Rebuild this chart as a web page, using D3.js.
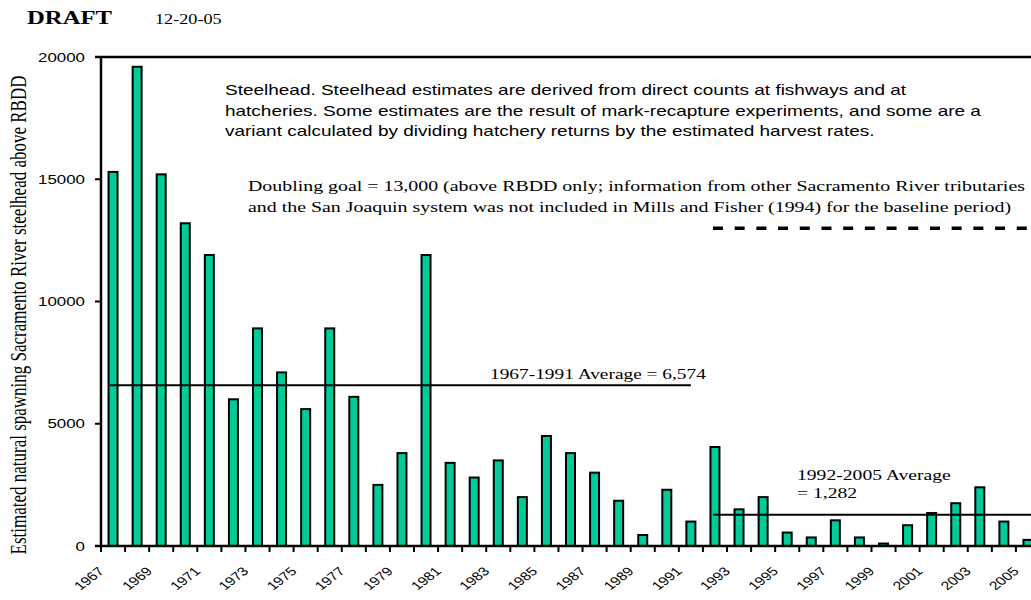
<!DOCTYPE html>
<html><head><meta charset="utf-8">
<script src="https://cdn.jsdelivr.net/npm/d3@7"></script>
<style>html,body{margin:0;padding:0;background:#fff;overflow:hidden}</style>
</head><body>
<script>
const years = [1967,1968,1969,1970,1971,1972,1973,1974,1975,1976,1977,1978,1979,1980,1981,1982,1983,1984,1985,1986,1987,1988,1989,1990,1991,1992,1993,1994,1995,1996,1997,1998,1999,2000,2001,2002,2003,2004,2005];
const values = [15300,19600,15200,13200,11900,6000,8900,7100,5600,8900,6100,2500,3800,11900,3400,2800,3500,2000,4500,3800,3000,1850,450,2300,1000,4050,1500,2000,550,350,1050,350,100,850,1350,1750,2400,1000,250];
const tickLabels = ["1967","1969","1971","1973","1975","1977","1979","1981","1983","1985","1987","1989","1991","1993","1995","1997","1999","2001","2003","2005"];
const yTicks = [0,5000,10000,15000,20000];
const avg1 = {from:1967, to:1991, value:6574, label:"1967-1991 Average = 6,574"};
const avg2 = {from:1992, to:2005, value:1282, label:["1992-2005 Average","= 1,282"]};
const goal = {from:1992, value:13000, label:["Doubling goal = 13,000 (above RBDD only; information from other Sacramento River tributaries","and the San Joaquin system was not included in Mills and Fisher (1994) for the baseline period)"]};
const note = ["Steelhead. Steelhead estimates are derived from direct counts at fishways and at","hatcheries. Some estimates are the result of mark-recapture experiments, and some are a","variant calculated by dividing hatchery returns by the estimated harvest rates."];
const yTitle = "Estimated natural spawning Sacramento River steelhead above RBDD";

const W = 1031, H = 600, SX = 1.3;
const serif = "'Liberation Serif','Times New Roman',serif";
const sans = "'Liberation Sans',Arial,sans-serif";
const svg = d3.select("body").append("svg").attr("width", W).attr("height", H);

const x = d3.scaleBand().domain(years).range([101, 1040]).padding(0);
const y = d3.scaleLinear().domain([0, 20000]).range([546, 57]);
const cx = d => x(d) + x.bandwidth()/2;

function txt(g, px, py, s, o) {
  o = o || {};
  const th = (o.rot || 0) * Math.PI / 180;
  const c = Math.cos(th), sn = Math.sin(th);
  const m = [SX * c, sn, -SX * sn, c, px, py].map(v => +v.toFixed(4));
  const t = g.append("text")
    .attr("transform", `matrix(${m.join(",")})`)
    .attr("x", 0).attr("y", 0)
    .attr("font-family", o.font || serif).attr("font-size", o.size || 14)
    .attr("text-anchor", o.anchor || "start").attr("fill", "#000").text(s);
  if (o.weight) t.attr("font-weight", o.weight);
  if (o.dy) t.attr("dy", o.dy);
  return t;
}

// header
txt(svg, 27, 24, "DRAFT", {size: 19, weight: "bold"});
txt(svg, 155, 24, "12-20-05", {size: 14});

// bars
const bw = 9;
svg.append("g").selectAll("rect").data(years).join("rect")
  .attr("x", (d) => cx(d) - bw/2)
  .attr("y", (d,i) => y(values[i]))
  .attr("width", bw)
  .attr("height", (d,i) => y(0) - y(values[i]))
  .attr("fill", "#00CC99").attr("stroke", "#000").attr("stroke-width", 2);

// y axis
const ya = svg.append("g");
ya.append("line").attr("x1", 101).attr("x2", 101).attr("y1", y(20000)).attr("y2", y(0)).attr("stroke", "#000").attr("stroke-width", 2.5);
ya.selectAll("line.t").data(yTicks).join("line").attr("class","t")
  .attr("x1", 95).attr("x2", 101).attr("y1", d => y(d)).attr("y2", d => y(d)).attr("stroke", "#000").attr("stroke-width", 2);
yTicks.forEach(v => txt(ya, 85, y(v), String(v), {font: sans, size: 13, anchor: "end", dy: "0.35em"}));
// top frame line
svg.append("line").attr("x1", 95).attr("x2", 1040).attr("y1", y(20000)).attr("y2", y(20000)).attr("stroke", "#000").attr("stroke-width", 2.5);

// x axis
const xa = svg.append("g");
xa.append("line").attr("x1", 95).attr("x2", 1040).attr("y1", y(0)).attr("y2", y(0)).attr("stroke", "#000").attr("stroke-width", 2.5);
xa.selectAll("line.t").data(years).join("line").attr("class","t")
  .attr("x1", d => x(d)).attr("x2", d => x(d)).attr("y1", y(0)).attr("y2", y(0) + 6).attr("stroke", "#000").attr("stroke-width", 2);
tickLabels.forEach(l => txt(xa, cx(+l) - 8, 572, l, {font: sans, size: 12, anchor: "end", rot: -45}));

// y title
txt(svg, 26, 315, yTitle, {size: 17, anchor: "middle", rot: -90});

// averages
svg.append("line").attr("x1", cx(avg1.from) - 3).attr("x2", cx(avg1.to)).attr("y1", y(avg1.value)).attr("y2", y(avg1.value)).attr("stroke", "#000").attr("stroke-width", 2);
txt(svg, 490, 379, avg1.label, {size: 14.9});
svg.append("line").attr("x1", cx(avg2.from) - 2).attr("x2", 1040).attr("y1", y(avg2.value)).attr("y2", y(avg2.value)).attr("stroke", "#000").attr("stroke-width", 2);
txt(svg, 797, 480, avg2.label[0], {size: 15.1});
txt(svg, 797, 498, avg2.label[1], {size: 15.1});

// doubling goal
svg.append("line").attr("x1", cx(goal.from) - 2).attr("x2", 1040).attr("y1", y(goal.value)).attr("y2", y(goal.value))
  .attr("stroke", "#000").attr("stroke-width", 3.5).attr("stroke-dasharray", "10,11.7");
txt(svg, 248, 191, goal.label[0], {size: 15.3});
txt(svg, 248, 212, goal.label[1], {size: 15.3});

// note
note.forEach((l, i) => txt(svg, 225, 95 + i * 20.5, l, {font: sans, size: 14.6}));
</script>
</body></html>
